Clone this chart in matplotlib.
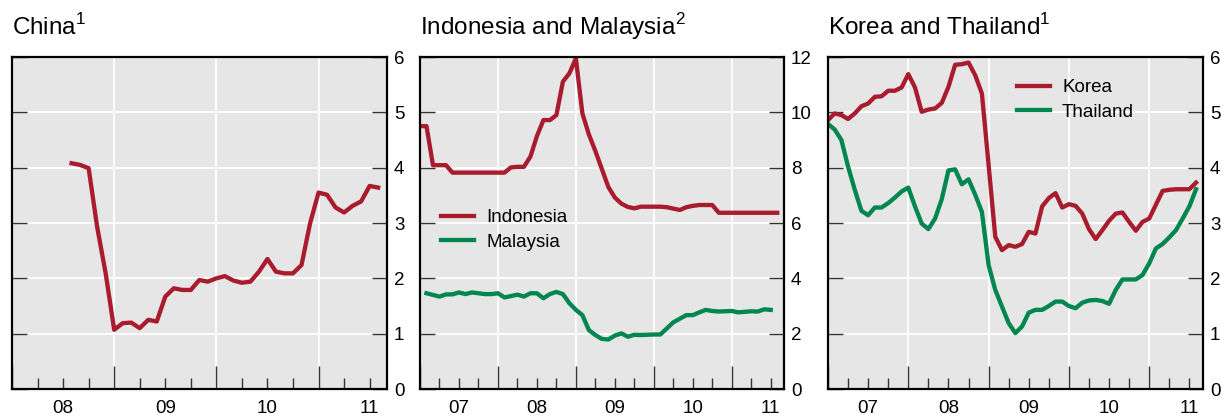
import matplotlib
matplotlib.use("Agg")
import matplotlib.pyplot as plt
import numpy as np

plt.rcParams["font.family"] = ["Liberation Sans", "DejaVu Sans"]
plt.rcParams["mathtext.fontset"] = "custom"
plt.rcParams["mathtext.rm"] = "Liberation Sans"

# monthly series, first month given as (year, month)
china_start = (2008, 8)
china = [4.08, 4.05, 3.99, 2.93, 2.09, 1.07, 1.19, 1.20, 1.10, 1.25, 1.22, 1.67,
         1.82, 1.79, 1.79, 1.97, 1.94, 2.00, 2.04, 1.96, 1.92, 1.94, 2.12, 2.35,
         2.12, 2.09, 2.09, 2.24, 2.99, 3.55, 3.51, 3.28, 3.19, 3.31, 3.39, 3.67, 3.64]

indonesia_start = (2007, 1)
indonesia = [9.50, 9.50, 8.09, 8.09, 8.09, 7.82, 7.82, 7.82, 7.82, 7.82, 7.82, 7.82,
             7.82, 7.82, 8.01, 8.03, 8.03, 8.40, 9.14, 9.72, 9.72, 9.90, 11.11, 11.41,
             11.95, 9.96, 9.20, 8.60, 7.95, 7.30, 6.92, 6.70, 6.58, 6.53, 6.59, 6.59,
             6.59, 6.59, 6.57, 6.52, 6.47, 6.57, 6.62, 6.65, 6.65, 6.65, 6.37, 6.37,
             6.37, 6.37, 6.37, 6.37, 6.37, 6.37, 6.37, 6.37]

malaysia_start = (2007, 2)
malaysia = [3.46, 3.40, 3.34, 3.42, 3.42, 3.49, 3.43, 3.49, 3.46, 3.43, 3.43,
            3.46, 3.31, 3.36, 3.41, 3.34, 3.46, 3.46, 3.28, 3.43, 3.51, 3.43, 3.10,
            2.86, 2.67, 2.13, 1.95, 1.81, 1.79, 1.93, 2.01, 1.89, 1.96, 1.95, 1.96,
            1.97, 1.97, 2.19, 2.41, 2.54, 2.67, 2.67, 2.77, 2.86, 2.82, 2.80, 2.81,
            2.82, 2.77, 2.79, 2.81, 2.80, 2.88, 2.86]

korea_start = (2007, 1)
korea = [4.86, 4.98, 4.95, 4.88, 4.98, 5.11, 5.16, 5.28, 5.29, 5.39, 5.39, 5.45,
         5.69, 5.45, 5.01, 5.05, 5.07, 5.17, 5.46, 5.86, 5.87, 5.90, 5.67, 5.34,
         4.05, 2.75, 2.51, 2.60, 2.57, 2.62, 2.84, 2.81, 3.30, 3.45, 3.54, 3.28,
         3.34, 3.31, 3.17, 2.89, 2.71, 2.87, 3.04, 3.17, 3.19, 3.02, 2.86, 3.02,
         3.08, 3.33, 3.58, 3.60, 3.61, 3.61, 3.61, 3.73]

thailand_start = (2007, 1)
thailand = [4.79, 4.69, 4.50, 4.02, 3.60, 3.22, 3.14, 3.28, 3.28, 3.36, 3.46, 3.57,
            3.64, 3.30, 2.99, 2.89, 3.08, 3.43, 3.95, 3.97, 3.70, 3.79, 3.51, 3.20,
            2.24, 1.79, 1.49, 1.19, 1.01, 1.13, 1.38, 1.43, 1.43, 1.50, 1.58, 1.58,
            1.50, 1.46, 1.56, 1.60, 1.61, 1.59, 1.54, 1.79, 1.98, 1.98, 1.98, 2.06,
            2.27, 2.54, 2.62, 2.74, 2.87, 3.08, 3.30, 3.61]

RED = "#a81c2e"
GREEN = "#00874f"
BG = "#e6e6e6"
FS = 13.5


def months(start, n):
    y, m = start
    return y + (m - 1) / 12 + np.arange(n) / 12


def style(ax, first_year, ymax, ystep, title):
    ax.set_facecolor(BG)
    ax.set_xlim(first_year, 2011.67)
    ax.set_ylim(0, ymax)
    years = np.arange(first_year, 2012)
    ax.set_xticks(years)
    ax.set_xticklabels([""] * len(years))
    quarters = [q for q in np.arange(first_year + 0.25, 2011.7, 0.25) if q % 1 != 0]
    ax.set_xticks(quarters, minor=True)
    ax.set_xticklabels(["%02d" % (int(q) % 100) if q % 1 == 0.5 else "" for q in quarters],
                       minor=True)
    ax.set_yticks(np.arange(0, ymax + 1, ystep))
    ax.tick_params(axis="x", which="major", direction="in", length=16.5, width=1,
                   color="#333333", bottom=True, top=False)
    ax.tick_params(axis="x", which="minor", direction="in", length=8, width=1,
                   color="#333333", pad=8, labelsize=FS)
    ax.tick_params(axis="y", direction="in", length=11, width=1, color="#333333",
                   left=True, right=True, labelleft=False, labelright=True,
                   pad=5, labelsize=FS)
    ax.grid(True, which="major", color="white", lw=1.3)
    ax.set_axisbelow(True)
    for s in ax.spines.values():
        s.set_linewidth(1.6)
    ax.text(0, 1.066, title, transform=ax.transAxes, fontsize=17.5, va="baseline")


fig = plt.figure(figsize=(12.22, 4.16), dpi=100)
bottom, height = 27 / 416, 332 / 416
ax1 = fig.add_axes([12 / 1222, bottom, 375 / 1222, height])
ax2 = fig.add_axes([420 / 1222, bottom, 364 / 1222, height])
ax3 = fig.add_axes([828 / 1222, bottom, 375 / 1222, height])

ax1.plot(months(china_start, len(china)), china, color=RED, lw=3.1)
style(ax1, 2008, 6, 1, r"China$^{\mathrm{1}}$")

ax2.plot(months(indonesia_start, len(indonesia)), indonesia, color=RED, lw=3.1, label="Indonesia")
ax2.plot(months(malaysia_start, len(malaysia)), malaysia, color=GREEN, lw=3.1, label="Malaysia")
style(ax2, 2007, 12, 2, r"Indonesia and Malaysia$^{\mathrm{2}}$")
ax2.legend(loc="center left", bbox_to_anchor=(0.058, 0.479), frameon=False, fontsize=FS,
           handlelength=1.75, handletextpad=0.65, labelspacing=0.4, borderpad=0,
           borderaxespad=0)

ax3.plot(months(korea_start, len(korea)), korea, color=RED, lw=3.1, label="Korea")
ax3.plot(months(thailand_start, len(thailand)), thailand, color=GREEN, lw=3.1, label="Thailand")
style(ax3, 2007, 6, 1, r"Korea and Thailand$^{\mathrm{1}}$")
ax3.legend(loc="center left", bbox_to_anchor=(0.504, 0.870), frameon=False, fontsize=FS,
           handlelength=1.75, handletextpad=0.65, labelspacing=0.4, borderpad=0,
           borderaxespad=0)

fig.savefig("out.png", dpi=100)
